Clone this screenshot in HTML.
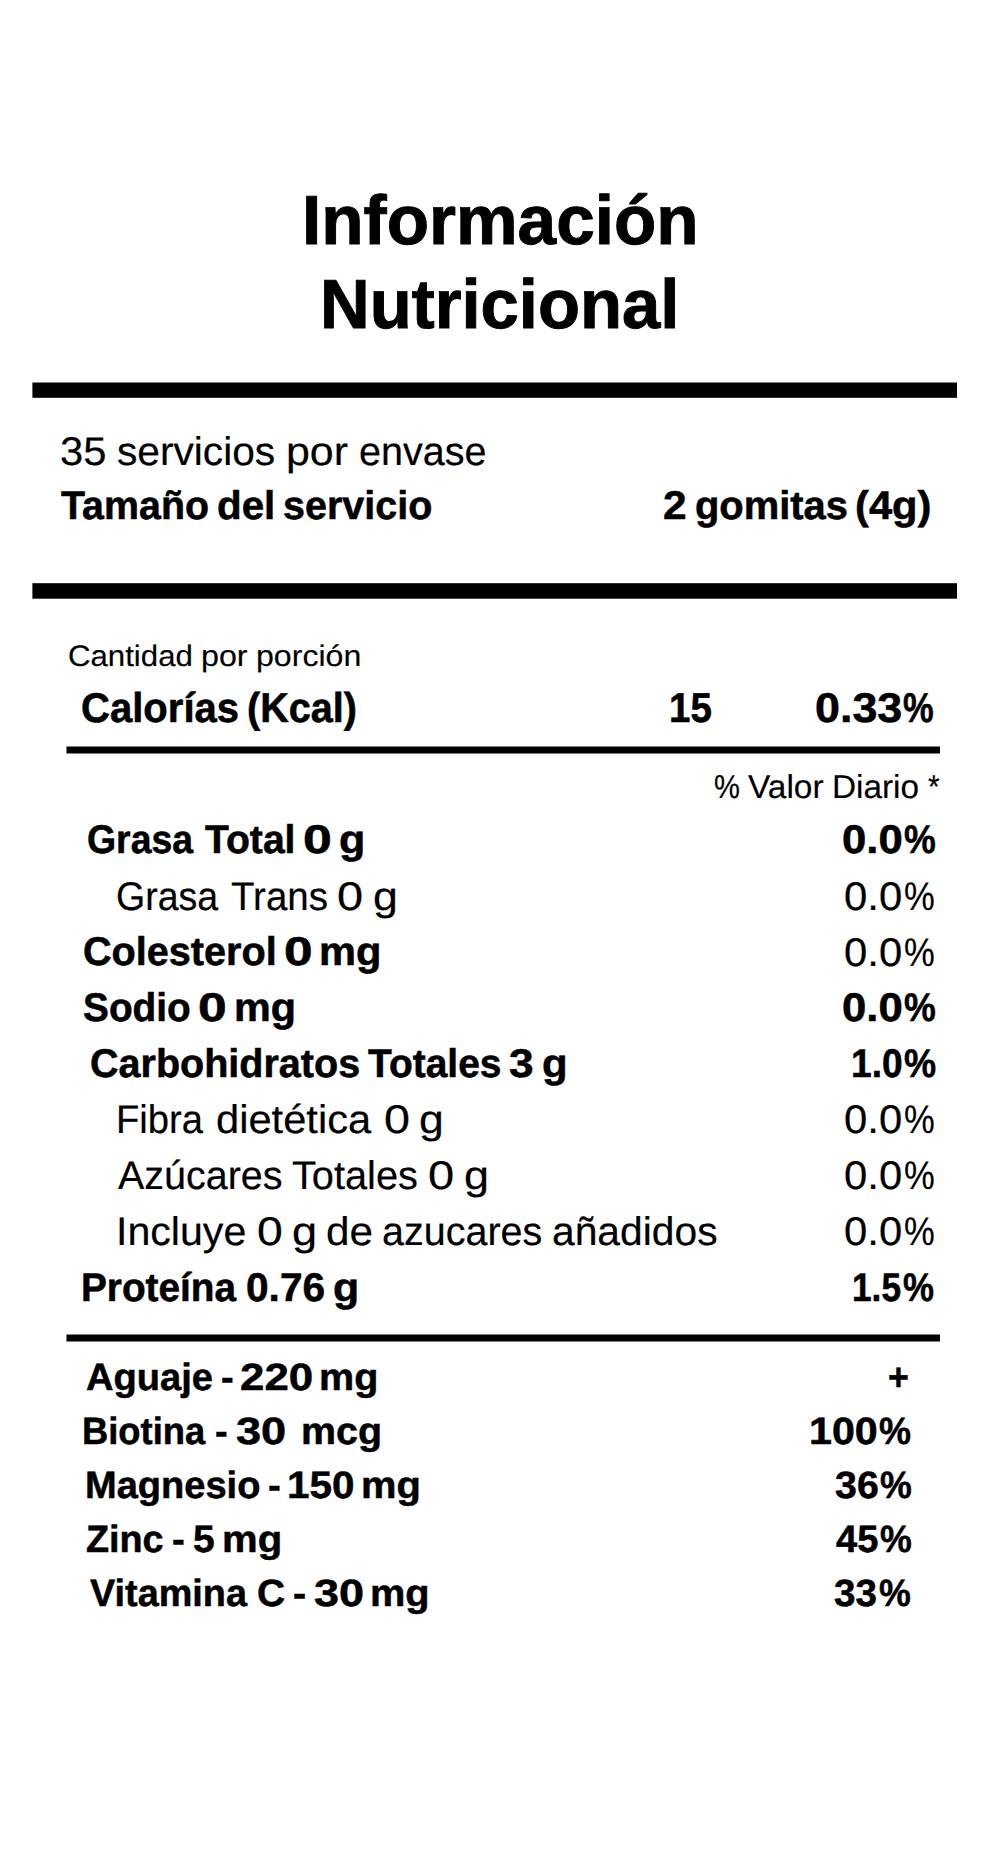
<!DOCTYPE html>
<html lang="es">
<head>
<meta charset="utf-8">
<title>Información Nutricional</title>
<style>
html,body{margin:0;padding:0;background:#fff;}
body{width:1000px;height:1871px;position:relative;overflow:hidden;font-family:"Liberation Sans", sans-serif;color:#000;}
.t{position:absolute;left:0;white-space:pre;line-height:normal;margin:0;text-rendering:geometricPrecision;}
.t span{display:inline-block;width:0;transform-origin:0 0;}
.b{font-weight:700;}
.r{font-weight:400;}
.rules{position:absolute;left:0;top:0;display:block;}
</style>
</head>
<body>
<svg class="rules" width="1000" height="1871" viewBox="0 0 1000 1871" aria-hidden="true">
<rect x="32.40" y="382.50" width="924.60" height="15.30" fill="#000"/>
<rect x="32.40" y="583.20" width="924.60" height="15.50" fill="#000"/>
<rect x="66.50" y="746.50" width="873.50" height="7.00" fill="#000"/>
<rect x="66.50" y="1334.50" width="873.50" height="7.00" fill="#000"/>
</svg>
<h1 class="t b" style="top:179.53px;font-size:69.3px;-webkit-text-stroke:0.94px #000"><span style="margin-left:301.64px;transform:scaleX(1.0002)">Información</span></h1>
<h1 class="t b" style="top:263.53px;font-size:69.3px;-webkit-text-stroke:0.94px #000"><span style="margin-left:319.77px;transform:scaleX(0.9931)">Nutricional</span></h1>
<div class="t r" style="top:429.60px;font-size:40px;-webkit-text-stroke:0.2px #000"><span style="margin-left:59.60px;transform:scaleX(1.0425)">35</span> <span style="margin-left:45.85px;transform:scaleX(1.0168)">servicios</span> <span style="margin-left:158.15px;transform:scaleX(1.0720)">por</span> <span style="margin-left:61.62px;transform:scaleX(0.9880)">envase</span></div>
<div class="t b" style="top:483.73px;font-size:40px;-webkit-text-stroke:0.54px #000"><span style="margin-left:60.67px;transform:scaleX(0.9838)">Tamaño</span> <span style="margin-left:145.03px;transform:scaleX(1.0088)">del</span> <span style="margin-left:55.11px;transform:scaleX(0.9870)">servicio</span></div>
<div class="t b" style="top:483.73px;font-size:40px;-webkit-text-stroke:0.54px #000"><span style="margin-left:663.16px;transform:scaleX(1.0613)">2</span> <span style="margin-left:20.55px;transform:scaleX(0.9972)">gomitas</span> <span style="margin-left:149.39px;transform:scaleX(1.0434)">(4g)</span></div>
<div class="t r" style="top:639.57px;font-size:29.6px;-webkit-text-stroke:0.15px #000"><span style="margin-left:68.20px;transform:scaleX(1.0538)">Cantidad</span> <span style="margin-left:124.62px;transform:scaleX(1.0894)">por</span> <span style="margin-left:46.58px;transform:scaleX(1.0853)">porción</span></div>
<div class="t b" style="top:683.92px;font-size:41.6px;-webkit-text-stroke:0.56px #000"><span style="margin-left:80.82px;transform:scaleX(0.9633)">Calorías</span> <span style="margin-left:154.23px;transform:scaleX(0.9522)">(Kcal)</span></div>
<div class="t b" style="top:684.02px;font-size:41.6px;-webkit-text-stroke:0.56px #000"><span style="margin-left:668.85px;transform:scaleX(0.9260)">15</span></div>
<div class="t b" style="top:684.02px;font-size:41.6px;-webkit-text-stroke:0.56px #000"><span style="margin-left:815.10px;transform:scaleX(1.0784)">0.33</span><span style="margin-left:88.29px;transform:scaleX(0.8290)">%</span></div>
<div class="t r" style="top:768.66px;font-size:33.1px;-webkit-text-stroke:0.17px #000"><span style="margin-left:714.16px;transform:scaleX(0.8811)">%</span> <span style="margin-left:24.73px;transform:scaleX(1.0104)">Valor</span> <span style="margin-left:74.40px;transform:scaleX(1.0074)">Diario</span> <span style="margin-left:86.73px;transform:scaleX(0.9034)">*</span></div>
<div class="t b" style="top:817.68px;font-size:40px;-webkit-text-stroke:0.54px #000"><span style="margin-left:87.08px;transform:scaleX(0.9348)">Grasa</span> <span style="margin-left:106.57px;transform:scaleX(0.9774)">Total</span> <span style="margin-left:87.05px;transform:scaleX(1.2955)">0</span> <span style="margin-left:24.50px;transform:scaleX(1.0773)">g</span></div>
<div class="t b" style="top:817.68px;font-size:40px;-webkit-text-stroke:0.54px #000"><span style="margin-left:841.83px;transform:scaleX(1.0925)">0.0</span><span style="margin-left:62.65px;transform:scaleX(0.8936)">%</span></div>
<div class="t r" style="top:874.51px;font-size:40px;-webkit-text-stroke:0.2px #000"><span style="margin-left:116.14px;transform:scaleX(0.9376)">Grasa</span> <span style="margin-left:103.25px;transform:scaleX(0.9618)">Trans</span> <span style="margin-left:95.54px;transform:scaleX(1.1733)">0</span> <span style="margin-left:24.75px;transform:scaleX(1.1187)">g</span></div>
<div class="t r" style="top:874.51px;font-size:40px;-webkit-text-stroke:0.2px #000"><span style="margin-left:844.40px;transform:scaleX(1.0456)">0.0</span><span style="margin-left:59.41px;transform:scaleX(0.8642)">%</span></div>
<div class="t b" style="top:929.50px;font-size:40px;-webkit-text-stroke:0.54px #000"><span style="margin-left:82.63px;transform:scaleX(0.9900)">Colesterol</span> <span style="margin-left:190.30px;transform:scaleX(1.2855)">0</span> <span style="margin-left:23.83px;transform:scaleX(1.0400)">mg</span></div>
<div class="t r" style="top:930.67px;font-size:40px;-webkit-text-stroke:0.2px #000"><span style="margin-left:844.40px;transform:scaleX(1.0456)">0.0</span><span style="margin-left:59.41px;transform:scaleX(0.8642)">%</span></div>
<div class="t b" style="top:985.66px;font-size:40px;-webkit-text-stroke:0.54px #000"><span style="margin-left:82.66px;transform:scaleX(0.9699)">Sodio</span> <span style="margin-left:104.27px;transform:scaleX(1.2905)">0</span> <span style="margin-left:24.35px;transform:scaleX(1.0328)">mg</span></div>
<div class="t b" style="top:985.66px;font-size:40px;-webkit-text-stroke:0.54px #000"><span style="margin-left:841.83px;transform:scaleX(1.0925)">0.0</span><span style="margin-left:62.65px;transform:scaleX(0.8936)">%</span></div>
<div class="t b" style="top:1041.57px;font-size:40px;-webkit-text-stroke:0.54px #000"><span style="margin-left:89.83px;transform:scaleX(0.9881)">Carbohidratos</span> <span style="margin-left:267.32px;transform:scaleX(0.9736)">Totales</span> <span style="margin-left:129.83px;transform:scaleX(1.1056)">3</span> <span style="margin-left:21.85px;transform:scaleX(1.0489)">g</span></div>
<div class="t b" style="top:1041.57px;font-size:40px;-webkit-text-stroke:0.54px #000"><span style="margin-left:850.73px;transform:scaleX(0.9284)">1.0</span><span style="margin-left:53.75px;transform:scaleX(0.9022)">%</span></div>
<div class="t r" style="top:1097.65px;font-size:40px;-webkit-text-stroke:0.2px #000"><span style="margin-left:115.71px;transform:scaleX(0.9541)">Fibra</span> <span style="margin-left:88.78px;transform:scaleX(1.0412)">dietética</span> <span style="margin-left:157.14px;transform:scaleX(1.1683)">0</span> <span style="margin-left:24.25px;transform:scaleX(1.1135)">g</span></div>
<div class="t r" style="top:1097.65px;font-size:40px;-webkit-text-stroke:0.2px #000"><span style="margin-left:844.40px;transform:scaleX(1.0456)">0.0</span><span style="margin-left:59.41px;transform:scaleX(0.8642)">%</span></div>
<div class="t r" style="top:1153.56px;font-size:40px;-webkit-text-stroke:0.2px #000"><span style="margin-left:117.50px;transform:scaleX(0.9862)">Azúcares</span> <span style="margin-left:163.07px;transform:scaleX(0.9931)">Totales</span> <span style="margin-left:125.35px;transform:scaleX(1.1782)">0</span> <span style="margin-left:24.95px;transform:scaleX(1.1240)">g</span></div>
<div class="t r" style="top:1153.56px;font-size:40px;-webkit-text-stroke:0.2px #000"><span style="margin-left:844.40px;transform:scaleX(1.0456)">0.0</span><span style="margin-left:59.41px;transform:scaleX(0.8642)">%</span></div>
<div class="t r" style="top:1209.72px;font-size:40px;-webkit-text-stroke:0.2px #000"><span style="margin-left:115.89px;transform:scaleX(1.0279)">Incluye</span> <span style="margin-left:130.06px;transform:scaleX(1.1584)">0</span> <span style="margin-left:24.12px;transform:scaleX(1.1293)">g</span> <span style="margin-left:22.97px;transform:scaleX(1.0569)">de</span> <span style="margin-left:44.17px;transform:scaleX(0.9875)">azucares</span> <span style="margin-left:159.65px;transform:scaleX(1.0196)">añadidos</span></div>
<div class="t r" style="top:1209.72px;font-size:40px;-webkit-text-stroke:0.2px #000"><span style="margin-left:844.40px;transform:scaleX(1.0456)">0.0</span><span style="margin-left:59.41px;transform:scaleX(0.8642)">%</span></div>
<div class="t b" style="top:1265.71px;font-size:40px;-webkit-text-stroke:0.54px #000"><span style="margin-left:80.54px;transform:scaleX(0.9688)">Proteína</span> <span style="margin-left:154.45px;transform:scaleX(1.0165)">0.76</span> <span style="margin-left:76.23px;transform:scaleX(1.0725)">g</span></div>
<div class="t b" style="top:1265.71px;font-size:40px;-webkit-text-stroke:0.54px #000"><span style="margin-left:851.63px;transform:scaleX(0.8813)">1.5</span><span style="margin-left:51.26px;transform:scaleX(0.8707)">%</span></div>
<div class="t b" style="top:1356.54px;font-size:38px;-webkit-text-stroke:0.51px #000"><span style="margin-left:85.66px;transform:scaleX(1.0019)">Aguaje</span> <span style="margin-left:124.45px;transform:scaleX(0.9996)">-</span> <span style="margin-left:8.30px;transform:scaleX(1.1539)">220</span> <span style="margin-left:69.21px;transform:scaleX(1.0398)">mg</span></div>
<div class="t b" style="top:1356.87px;font-size:38px;-webkit-text-stroke:0.51px #000"><span style="margin-left:888.22px;transform:scaleX(0.9401)">+</span></div>
<div class="t b" style="top:1410.59px;font-size:38px;-webkit-text-stroke:0.51px #000"><span style="margin-left:81.77px;transform:scaleX(0.9564)">Biotina</span> <span style="margin-left:122.34px;transform:scaleX(0.9996)">-</span> <span style="margin-left:10.67px;transform:scaleX(1.1884)">30</span>  <span style="margin-left:43.79px;transform:scaleX(1.0361)">mcg</span></div>
<div class="t b" style="top:1410.59px;font-size:38px;-webkit-text-stroke:0.51px #000"><span style="margin-left:809.40px;transform:scaleX(1.0851)">100</span><span style="margin-left:69.78px;transform:scaleX(0.9467)">%</span></div>
<div class="t b" style="top:1464.64px;font-size:38px;-webkit-text-stroke:0.51px #000"><span style="margin-left:85.38px;transform:scaleX(1.0009)">Magnesio</span> <span style="margin-left:172.52px;transform:scaleX(1.0091)">-</span> <span style="margin-left:8.13px;transform:scaleX(1.0634)">150</span> <span style="margin-left:63.77px;transform:scaleX(1.0492)">mg</span></div>
<div class="t b" style="top:1464.64px;font-size:38px;-webkit-text-stroke:0.51px #000"><span style="margin-left:834.55px;transform:scaleX(1.0355)">36</span><span style="margin-left:45.93px;transform:scaleX(0.9407)">%</span></div>
<div class="t b" style="top:1518.69px;font-size:38px;-webkit-text-stroke:0.51px #000"><span style="margin-left:86.36px;transform:scaleX(0.9937)">Zinc</span> <span style="margin-left:74.74px;transform:scaleX(1.0091)">-</span> <span style="margin-left:10.44px;transform:scaleX(1.0247)">5</span> <span style="margin-left:18.85px;transform:scaleX(1.0549)">mg</span></div>
<div class="t b" style="top:1518.69px;font-size:38px;-webkit-text-stroke:0.51px #000"><span style="margin-left:836.26px;transform:scaleX(1.0016)">45</span><span style="margin-left:44.23px;transform:scaleX(0.9407)">%</span></div>
<div class="t b" style="top:1572.74px;font-size:38px;-webkit-text-stroke:0.51px #000"><span style="margin-left:89.85px;transform:scaleX(0.9953)">Vitamina</span> <span style="margin-left:156.54px;transform:scaleX(1.0215)">C</span> <span style="margin-left:25.13px;transform:scaleX(1.0374)">-</span> <span style="margin-left:10.61px;transform:scaleX(1.1835)">30</span> <span style="margin-left:46.13px;transform:scaleX(1.0455)">mg</span></div>
<div class="t b" style="top:1572.74px;font-size:38px;-webkit-text-stroke:0.51px #000"><span style="margin-left:834.06px;transform:scaleX(1.0161)">33</span><span style="margin-left:44.83px;transform:scaleX(0.9407)">%</span></div>
</body>
</html>
